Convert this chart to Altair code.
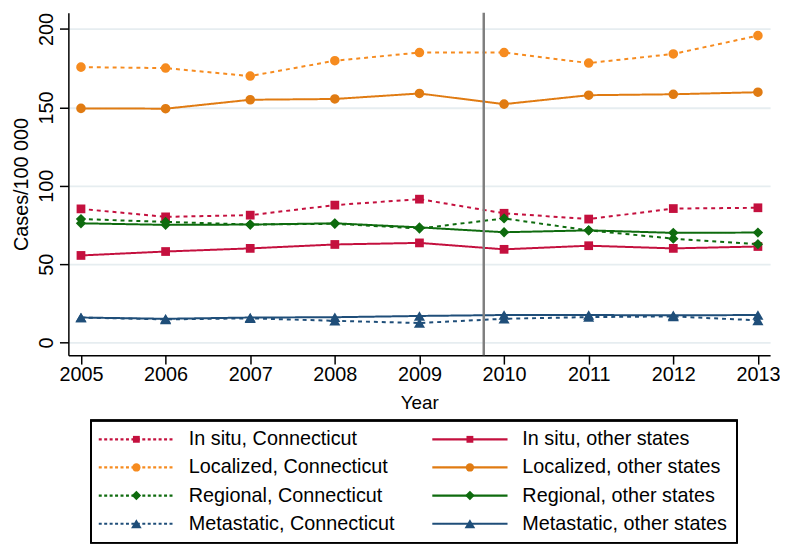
import altair as alt
import pandas as pd

years = [2005, 2006, 2007, 2008, 2009, 2010, 2011, 2012, 2013]
insitu_ct = [85.3, 80.2, 81.3, 87.7, 91.5, 82.5, 78.8, 85.5, 86.0]
insitu_ot = [55.6, 58.1, 60.1, 62.6, 63.6, 59.5, 61.8, 60.1, 61.3]
local_ct = [175.7, 175.1, 170.0, 179.8, 185.0, 185.0, 178.3, 184.1, 195.8]
local_ot = [149.4, 149.2, 154.9, 155.4, 158.9, 152.1, 157.8, 158.4, 159.7]
regional_ct = [78.8, 77.0, 75.3, 75.8, 72.8, 79.2, 71.6, 66.3, 62.8]
regional_ot = [76.1, 75.1, 75.3, 76.1, 73.5, 70.4, 71.6, 70.0, 70.2]
meta_ct = [16.0, 14.8, 15.5, 13.9, 12.5, 15.2, 16.3, 16.7, 14.2]
meta_ot = [16.0, 15.2, 16.0, 16.2, 17.0, 17.6, 17.6, 17.4, 17.6]
cut_year = [2009.76]

stages = ["In situ", "Localized", "Regional", "Metastatic"]
regions = ["Connecticut", "other states"]
y_ticks = [0, 50, 100, 150, 200]

values = {
    ("In situ", "Connecticut"): insitu_ct,
    ("In situ", "other states"): insitu_ot,
    ("Localized", "Connecticut"): local_ct,
    ("Localized", "other states"): local_ot,
    ("Regional", "Connecticut"): regional_ct,
    ("Regional", "other states"): regional_ot,
    ("Metastatic", "Connecticut"): meta_ct,
    ("Metastatic", "other states"): meta_ot,
}

series_names = [f"{s}, {r}" for s in stages for r in regions]
series_colors = ["#c4103e", "#c4103e", "#f68b1f", "#e07b12",
                 "#0e6b0e", "#0e6b0e", "#1f4e79", "#1f4e79"]

rows = []
for (s, r), vals in values.items():
    for yr, v in zip(years, vals):
        rows.append({"year": yr, "value": v, "stage": s, "region": r, "series": f"{s}, {r}"})
df = pd.DataFrame(rows)

leg_rows = []
for i, s in enumerate(stages):
    for j, r in enumerate(regions):
        leg_rows.append({"series": f"{s}, {r}", "stage": s, "region": r, "row": i, "col": j})
leg_df = pd.DataFrame(leg_rows)

FONT = "Liberation Sans"

xs = alt.Scale(domain=[2004.851, 2013.144], nice=False, zero=False)
ys = alt.Scale(domain=[-8.02, 210.4], nice=False, zero=False)
xaxis = alt.Axis(values=years, format="d", title="Year", grid=False,
                 labelFontSize=20, titleFontSize=19, labelPadding=1, titlePadding=9,
                 tickSize=9, tickColor="black", tickWidth=1.5,
                 domainColor="black", domainWidth=1.5, labelColor="black",
                 titleColor="black", labelFont=FONT, titleFont=FONT,
                 titleFontWeight="normal", labelFlush=False)
yaxis = alt.Axis(values=y_ticks, title="Cases/100 000", grid=True,
                 gridColor="#e6edf0", gridWidth=1.8,
                 labelAngle=270, labelFontSize=20, titleFontSize=20,
                 labelPadding=3, titlePadding=5,
                 tickSize=9, tickColor="black", tickWidth=1.5,
                 domainColor="black", domainWidth=1.5, labelColor="black",
                 titleColor="black", labelFont=FONT, titleFont=FONT,
                 titleFontWeight="normal", labelFlush=False)

X = alt.X("year:Q", scale=xs, axis=xaxis)
Y = alt.Y("value:Q", scale=ys, axis=yaxis)
color = alt.Color("series:N", scale=alt.Scale(domain=series_names, range=series_colors), legend=None)

lines = alt.Chart(df).mark_line(strokeWidth=2).encode(
    x=X, y=Y, color=color,
    strokeDash=alt.StrokeDash("region:N", scale=alt.Scale(domain=regions, range=[[4, 4], [1, 0]]), legend=None),
    detail="series:N",
)

points = alt.Chart(df).mark_point(filled=True, opacity=1, strokeWidth=0).encode(
    x=X, y=Y, color=color,
    shape=alt.Shape("stage:N", scale=alt.Scale(domain=stages, range=["square", "circle", "diamond", "triangle-up"]), legend=None),
    size=alt.Size("stage:N", scale=alt.Scale(domain=stages, range=[78, 125, 120, 115]), legend=None),
)

vline = alt.Chart(pd.DataFrame({"year": cut_year})).mark_rule(color="#7f7f7f", strokeWidth=2.5).encode(x=X)

data_layer = alt.layer(lines, points, vline)

lx = alt.Scale(domain=[0, 1], range=[30.7, 367.7])
ly = alt.Scale(domain=[0, 3], range=[431, 516.3])
LX = alt.X("col:Q", scale=lx, axis=None)
LY = alt.Y("row:Q", scale=ly, axis=None)

leg_lines = alt.Chart(leg_df).mark_rule(strokeWidth=2.2, x2Offset=76).encode(
    x=LX, x2="col:Q", y=LY, color=color,
    strokeDash=alt.StrokeDash("region:N", scale=alt.Scale(domain=regions, range=[[3, 2.5], [1, 0]]), legend=None),
)
leg_points = alt.Chart(leg_df).mark_point(filled=True, opacity=1, strokeWidth=0, xOffset=38).encode(
    x=LX, y=LY, color=color,
    shape=alt.Shape("stage:N", scale=alt.Scale(domain=stages, range=["square", "circle", "diamond", "triangle-up"]), legend=None),
    size=alt.Size("stage:N", scale=alt.Scale(domain=stages, range=[48, 115, 65, 55]), legend=None),
)
leg_text = alt.Chart(leg_df).mark_text(align="left", baseline="middle", fontSize=20, font=FONT,
                                       color="black", xOffset=91).encode(
    x=LX, y=LY, text="series:N"
)
leg_box = alt.Chart(leg_df).mark_rect(fill=None, stroke="black", strokeWidth=1.3,
                                      xOffset=-8, x2Offset=308, yOffset=-19, y2Offset=19).encode(
    x=alt.datum(0, scale=lx, axis=None), x2=alt.datum(1),
    y=alt.datum(0, scale=ly, axis=None), y2=alt.datum(3),
)

legend_layer = alt.layer(leg_box, leg_lines, leg_points, leg_text)

chart = alt.layer(data_layer, legend_layer).resolve_scale(
    x="independent", y="independent", size="independent", strokeDash="independent"
).properties(
    width=709, height=346,
    padding={"left": 4, "top": 0, "right": 0, "bottom": 0},
    background="white"
).configure_view(stroke=None)

chart.save("out.html", embed_options={"renderer": "svg", "actions": False})
